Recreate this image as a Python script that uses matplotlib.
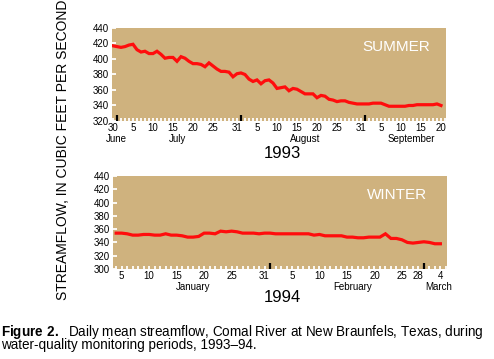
import matplotlib
matplotlib.use("Agg")
import matplotlib.pyplot as plt
import matplotlib.dates as mdates
import pandas as pd

plt.rcParams['font.family'] = ['Liberation Sans', 'DejaVu Sans']
plt.rcParams['mathtext.fontset'] = 'custom'
plt.rcParams['mathtext.bf'] = 'Liberation Sans:bold'
plt.rcParams['mathtext.rm'] = 'Liberation Sans'

# daily mean streamflow, cubic feet per second
summer_dates = pd.date_range("1993-06-30", "1993-09-20", freq="D")
summer_flow = [417, 416, 415, 416, 418, 419, 412, 409, 410, 407,
               407, 410, 406, 401, 402, 402, 397, 403, 401, 397,
               394, 394, 393, 390, 395, 391, 387, 384, 384, 383,
               377, 381, 382, 380, 374, 371, 373, 368, 372, 373,
               369, 362, 363, 364, 359, 362, 361, 358, 355, 355,
               355, 350, 353, 352, 348, 347, 345, 346, 346, 344,
               343, 342, 342, 342, 342, 343, 343, 343, 341, 339,
               339, 339, 339, 339, 340, 340, 341, 341, 341, 341,
               341, 342, 340]

winter_dates = pd.date_range("1994-01-04", "1994-03-04", freq="D")
winter_flow = [354, 354, 353, 351, 351, 352, 352, 351, 351, 353,
               351, 351, 350, 348, 348, 349, 354, 354, 353, 357,
               356, 357, 356, 354, 354, 354, 353, 354, 354, 353,
               353, 353, 353, 353, 353, 353, 351, 352, 350, 350,
               350, 350, 348, 348, 347, 347, 348, 348, 348, 353,
               346, 346, 344, 340, 339, 340, 341, 340, 338, 338]

summer_ticks = ["1993-06-30", "1993-07-05", "1993-07-10", "1993-07-15", "1993-07-20",
                "1993-07-25", "1993-07-31", "1993-08-05", "1993-08-10", "1993-08-15",
                "1993-08-20", "1993-08-25", "1993-08-31", "1993-09-05", "1993-09-10",
                "1993-09-15", "1993-09-20"]
winter_ticks = ["1994-01-05", "1994-01-10", "1994-01-15", "1994-01-20", "1994-01-25",
                "1994-01-31", "1994-02-05", "1994-02-10", "1994-02-15", "1994-02-20",
                "1994-02-25", "1994-02-28", "1994-03-04"]

summer_months = [("June", "1993-06-30 18:00"), ("July", "1993-07-16"),
                 ("August", "1993-08-17"), ("September", "1993-09-12 12:00")]
winter_months = [("January", "1994-01-18"), ("February", "1994-02-16"),
                 ("March", "1994-03-03 16:00")]

caption = ("$\\bf{Figure\\ 2.}$  Daily mean streamflow, Comal River at New Braunfels, Texas, during\n"
           "water-quality monitoring periods, 1993\u201394.")

tan = '#cfb27e'

fig = plt.figure(figsize=(4.94, 3.59), dpi=100)
ax1 = fig.add_axes([0.2267, 0.6630, 0.6761, 0.2590])
ax2 = fig.add_axes([0.2287, 0.2507, 0.6762, 0.2590])


def style(ax, dates, flow, ticks, months, ylim, xlim, season):
    ax.set_facecolor(tan)
    for s in ax.spines.values():
        s.set_visible(False)
    ax.plot(dates, flow, color='#ff0d0d', lw=2.3, solid_joinstyle='miter')
    ax.set_xlim(mdates.date2num(pd.Timestamp(xlim[0])), mdates.date2num(pd.Timestamp(xlim[1])))
    ax.set_ylim(*ylim)
    ax.set_yticks(range(ylim[0], ylim[1] + 1, 20))
    ax.tick_params(axis='y', direction='in', length=3, width=1.3, color='white',
                   labelsize=7, pad=2)
    # black ticks at month boundaries, white ticks every day
    ax.xaxis.set_major_locator(mdates.MonthLocator())
    ax.xaxis.set_minor_locator(mdates.DayLocator())
    ax.tick_params(axis='x', which='major', direction='in', length=4, width=1.6,
                   color='black', labelbottom=False)
    ax.tick_params(axis='x', which='minor', direction='in', length=2.2, width=1.3,
                   color='white')
    # day numbers
    sec = ax.secondary_xaxis('bottom')
    tk = pd.to_datetime(ticks)
    sec.set_xticks(mdates.date2num(tk))
    sec.set_xticklabels([str(d.day) for d in tk])
    sec.tick_params(length=0, labelsize=7, pad=1.2)
    for s in sec.spines.values():
        s.set_visible(False)
    for name, d in months:
        ax.text(pd.Timestamp(d), -0.14, name, transform=ax.get_xaxis_transform(),
                ha='center', va='top', fontsize=7)
    ax.text(0.85, 0.80, season, transform=ax.transAxes, ha='center', va='center',
            color='white', fontsize=11)


style(ax1, summer_dates, summer_flow, summer_ticks, summer_months, (320, 440),
      ("1993-06-29 18:00", "1993-09-21 06:00"), "SUMMER")
style(ax2, winter_dates, winter_flow, winter_ticks, winter_months, (300, 440),
      ("1994-01-03 10:00", "1994-03-05 05:00"), "WINTER")

fig.text(282 / 494, 1 - 153 / 359, "1993", ha='center', va='center', fontsize=12)
fig.text(282 / 494, 1 - 298 / 359, "1994", ha='center', va='center', fontsize=12)

fig.text(63 / 494, 1 - 150 / 359, "STREAMFLOW, IN CUBIC FEET PER SECOND",
         rotation=90, ha='center', va='center', fontsize=10)

# caption: fit line 1 to the reference width (1..485 px), lines 11 px apart
fig.canvas.draw()
r = fig.canvas.get_renderer()
cap = fig.text(1 / 494, 1 - 337.5 / 359, caption, ha='left', va='center',
               fontsize=9, linespacing=1.2)
w = cap.get_window_extent(r).width
fs = 9 * 484 / w
cap.set_fontsize(fs)
h2 = cap.get_window_extent(r).height
one = fig.text(0, 0, caption.split("\n")[0], fontsize=fs)
h1 = one.get_window_extent(r).height
one.remove()
cap.set_linespacing(1.2 * 11 / (h2 - h1))

fig.savefig("out.png", dpi=100)
